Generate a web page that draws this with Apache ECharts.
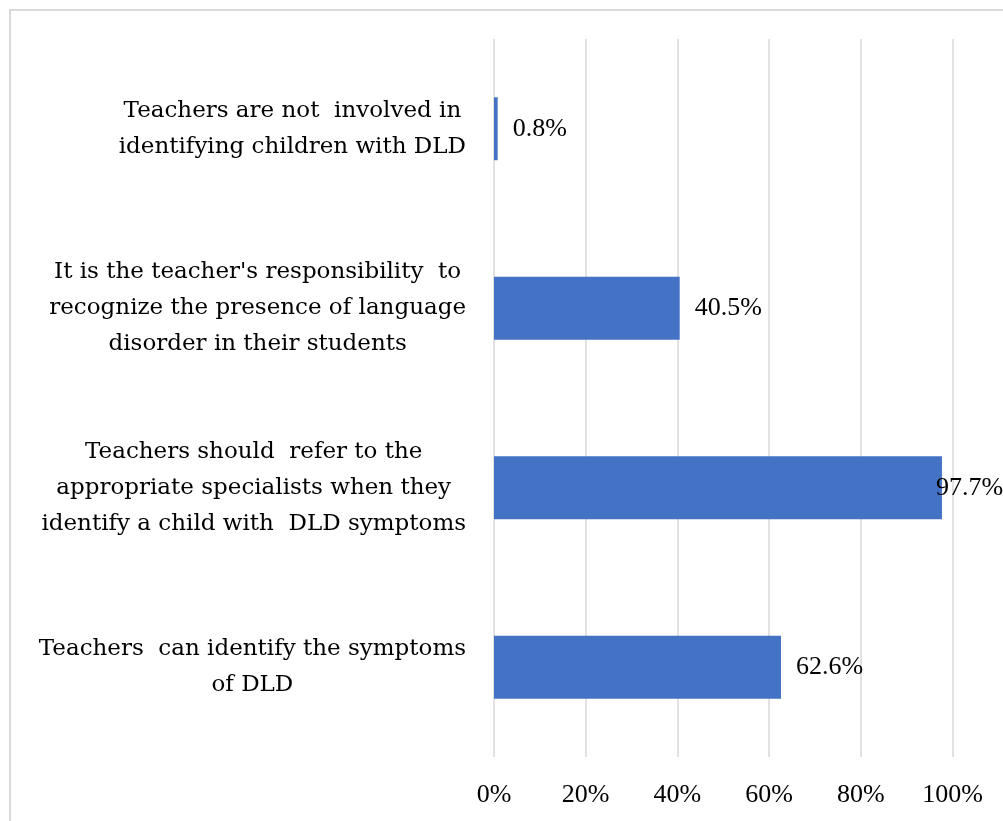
<!DOCTYPE html>
<html>
<head>
<meta charset="utf-8">
<script src="https://cdn.jsdelivr.net/npm/echarts@6/dist/echarts.min.js"></script>
<style>
  html, body { margin: 0; padding: 0; background: #fff; }
  #chart { width: 1003px; height: 821px; }
</style>
</head>
<body>
<div id="chart"></div>
<script>
// Statements about teachers' role with DLD, listed top to bottom
const categories = [
  "Teachers are not  involved in\nidentifying children with DLD",
  "It is the teacher's responsibility  to\nrecognize the presence of language\ndisorder in their students",
  "Teachers should  refer to the\nappropriate specialists when they\nidentify a child with  DLD symptoms",
  "Teachers  can identify the symptoms\nof DLD"
];
// Share of respondents agreeing (%)
const values = [0.8, 40.5, 97.7, 62.6];
// Value axis ticks (%)
const tickValues = [0, 20, 40, 60, 80, 100];

const NUM_FONT = "'Liberation Serif', 'DejaVu Serif', serif";
const CAT_FONT = "'DejaVu Serif', 'Liberation Serif', serif";

const chart = echarts.init(document.getElementById('chart'), null, { renderer: 'canvas' });

const option = {
  backgroundColor: '#ffffff',
  animation: false,
  graphic: [{
    type: 'rect',
    shape: { x: 10, y: 10, width: 1100, height: 900 },
    style: { fill: 'none', stroke: '#d9d9d9', lineWidth: 2 },
    silent: true
  }],
  grid: { left: 494, right: 50.5, top: 39, bottom: 64, containLabel: false },
  xAxis: {
    type: 'value',
    min: tickValues[0],
    max: tickValues[tickValues.length - 1],
    interval: tickValues[1] - tickValues[0],
    axisLine: { show: false },
    axisTick: { show: false },
    splitLine: { show: true, lineStyle: { color: '#d9d9d9', width: 1.5 } },
    axisLabel: {
      formatter: v => v + '%',
      fontFamily: NUM_FONT,
      fontSize: 26,
      color: '#000',
      margin: 25
    }
  },
  yAxis: {
    type: 'category',
    data: categories,
    inverse: true,
    axisLine: { show: false },
    axisTick: { show: false },
    splitLine: { show: false },
    axisLabel: {
      margin: 28,
      align: 'right',
      fontFamily: CAT_FONT,
      fontSize: 23,
      color: '#000',
      lineHeight: 36,
      formatter: v => v.split('\n').map(l => '{c|' + l + '}').join('\n'),
      rich: {
        c: { align: 'center', fontFamily: CAT_FONT, fontSize: 23, color: '#000', lineHeight: 36 }
      }
    }
  },
  series: [{
    type: 'bar',
    data: values.map(v => ({
      value: v,
      // the longest bar's label sits slightly over its end so it stays in view
      label: v > 95 ? { distance: -6 } : undefined
    })),
    barWidth: 63,
    itemStyle: { color: '#4472C4' },
    label: {
      show: true,
      position: 'right',
      distance: 15,
      formatter: p => p.value.toFixed(1) + '%',
      fontFamily: NUM_FONT,
      fontSize: 26,
      color: '#000'
    }
  }]
};

chart.setOption(option);
</script>
</body>
</html>
